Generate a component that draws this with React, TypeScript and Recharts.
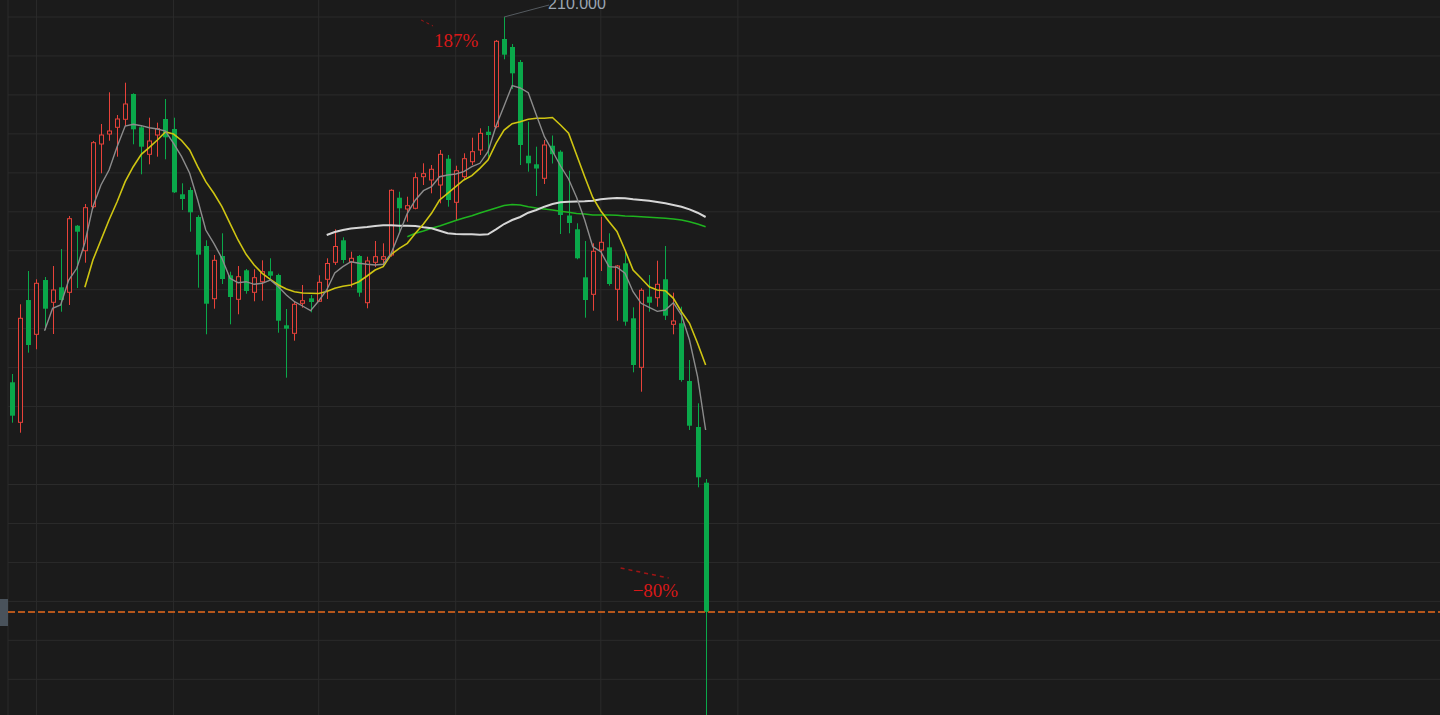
import React from "react";
import {
  ComposedChart,
  Bar,
  Line,
  XAxis,
  YAxis,
  ReferenceLine,
  ReferenceDot,
} from "recharts";

// daily OHLC, one entry per session
const opens = [
  106.86, 95.56, 130.09, 120.41, 135.74, 129.45, 133.68, 132.27, 151.07, 144.01,
  156.44, 174.14, 176.96, 178.86, 181.12, 188.26, 178.86, 171.23, 176.68, 181.2,
  178.38, 159.94, 161.15, 153.53, 145.34, 130.46, 142.52, 137.07, 130.29, 138.48,
  132.27, 135.26, 138.2, 137.15, 122.95, 120.69, 129.16, 130.57, 129.73, 135.94,
  140.74, 146.95, 140.82, 142.52, 129.33, 140.74, 141.59, 142.8, 158.98, 155.79,
  155.99, 164.91, 163.98, 162.56, 169.99, 157.68, 164.91, 169.14, 172.45, 177.61,
  179.03, 203.79, 201.53, 197.29, 170.84, 168.41, 164.46, 173.66, 171.97, 153.95,
  150.06, 136.5, 131.7, 144.21, 144.97, 133.12, 140.46, 124.93, 111.09, 131.03,
  130.74, 135.94, 123.23, 123.52, 107.22, 94.24, 78.51,
];
const highs = [
  109.2, 128.88, 138.28, 135.94, 136.59, 139.69, 144.49, 153.81, 151.27, 157.2,
  174.99, 179.79, 188.74, 182.33, 191.45, 188.46, 179.22, 181.57, 180.16, 186.85,
  181.57, 163.05, 161.92, 154.01, 146.95, 142.8, 148.93, 138.09, 139.69, 138.85,
  138.76, 141.3, 141.87, 137.52, 127.55, 129.81, 134.33, 131.51, 137.07, 141.87,
  150.06, 147.8, 143.73, 142.8, 142.32, 146.75, 146.1, 161.35, 160.67, 159.26,
  166.04, 168.69, 168.21, 172.45, 171.04, 168.01, 171.52, 175.92, 178.57, 179.22,
  203.51, 210.0, 202.38, 197.86, 180.44, 173.38, 175.27, 176.54, 172.36, 166.6,
  151.75, 146.75, 146.1, 153.61, 148.93, 139.98, 144.21, 128.03, 133.4, 137.15,
  141.19, 145.34, 132.16, 128.2, 113.15, 100.93, 79.55,
];
const lows = [
  95.45, 92.63, 115.22, 116.18, 121.62, 120.49, 126.79, 128.68, 133.48, 140.63,
  155.99, 165.87, 175.07, 170.56, 179.22, 174.06, 165.59, 168.41, 170.56, 169.82,
  160.31, 155.51, 149.38, 133.57, 120.41, 127.64, 134.61, 123.23, 126.06, 131.87,
  129.73, 129.9, 135.74, 120.86, 108.16, 118.6, 127.92, 126.62, 129.53, 130.38,
  139.98, 140.46, 133.68, 131.03, 127.75, 139.41, 139.98, 142.32, 149.38, 152.2,
  155.7, 162.56, 160.22, 157.4, 156.44, 152.68, 163.98, 168.21, 171.04, 170.56,
  178.57, 198.06, 189.67, 168.21, 166.32, 159.46, 162.85, 168.64, 148.73, 148.93,
  141.59, 125.1, 127.07, 138.28, 134.13, 124.25, 122.84, 109.68, 104.2, 126.79,
  128.2, 124.45, 120.41, 107.03, 93.39, 77.21, 8.0,
];
const closes = [
  97.43, 124.93, 117.39, 134.81, 127.64, 132.92, 130.09, 153.05, 149.38, 156.16,
  174.51, 176.68, 177.81, 181.2, 185.44, 178.29, 173.38, 174.99, 178.46, 176.03,
  160.5, 158.61, 154.86, 142.89, 129.05, 141.3, 136.02, 130.94, 136.67, 132.64,
  136.39, 138.09, 136.96, 124.25, 121.99, 128.88, 129.9, 129.53, 135.09, 140.4,
  145.2, 141.39, 141.87, 132.16, 141.11, 142.32, 142.32, 161.07, 155.99, 156.72,
  164.63, 165.76, 167.0, 171.23, 158.33, 166.6, 169.99, 171.97, 177.16, 176.68,
  203.14, 199.36, 194.1, 173.86, 168.69, 167.22, 173.86, 171.26, 154.09, 151.84,
  141.87, 130.09, 143.85, 146.39, 134.61, 139.69, 123.97, 111.74, 132.83, 129.33,
  134.53, 125.66, 124.17, 107.51, 94.6, 80.03, 42.0,
];

// moving averages, each list begins at its own first session
const MA5_START = 4;
const ma5 = [
  121.43, 127.75, 128.68, 135.74, 139.05, 146.27, 156.44, 162.56, 166.8, 173.38,
  179.22, 179.7, 179.31, 178.74, 178.38, 177.81, 174.34, 170.56, 165.87, 158.33,
  149.86, 146.1, 141.87, 136.22, 134.98, 135.26, 134.53, 134.81, 135.74, 133.85,
  131.51, 129.61, 128.4, 127.07, 129.81, 132.92, 137.72, 139.5, 140.91, 140.46,
  140.17, 139.98, 140.17, 143.28, 148.93, 154.57, 158.33, 160.96, 162.08, 164.91,
  165.39, 165.67, 166.32, 167.73, 168.69, 171.97, 179.22, 184.87, 190.66, 189.95,
  188.63, 182.33, 176.2, 172.16, 167.93, 164.26, 159.04, 152.68, 145.14, 143.73,
  139.5, 139.33, 137.63, 132.44, 129.16, 128.03, 126.9, 127.27, 129.33, 125.86,
  118.8, 108.44, 93.39,
];
const MA10_START = 9;
const ma10 = [
  133.68, 141.39, 147.04, 152.68, 157.85, 163.5, 167.73, 171.23, 173.21, 175.27,
  177.53, 176.96, 175.13, 172.45, 167.73, 163.5, 160.22, 156.44, 151.75, 147.04,
  143.0, 139.98, 137.63, 135.94, 134.33, 133.2, 132.44, 132.07, 131.99, 131.93,
  132.49, 133.4, 133.96, 134.33, 135.26, 136.87, 138.56, 139.5, 143.0, 144.69,
  146.1, 148.93, 151.55, 154.57, 158.33, 160.22, 162.08, 163.98, 165.19, 167.28,
  169.62, 174.34, 178.09, 179.87, 180.44, 181.12, 181.4, 181.4, 181.62, 179.51,
  177.16, 171.04, 164.91, 159.04, 155.22, 152.26, 149.44, 144.21, 138.56, 136.22,
  133.85, 132.92, 132.72, 130.57, 126.79, 123.52, 117.87, 111.74,
];
const MA40_START = 39;
const ma40 = [
  148.45, 149.29, 149.86, 150.28, 150.51, 150.71, 150.99, 151.19, 151.19, 151.07,
  151.07, 150.99, 150.62, 150.34, 149.66, 148.93, 148.73, 148.65, 148.65, 148.53,
  148.65, 150.06, 151.55, 152.68, 153.53, 154.74, 155.51, 156.44, 157.2, 157.68,
  157.85, 157.91, 157.96, 158.13, 158.53, 158.75, 158.89, 158.81, 158.53, 158.33,
  158.13, 157.77, 157.4, 156.92, 156.44, 155.7, 154.74, 153.53,
];
const MA50_START = 49;
const ma50 = [
  147.97, 148.93, 149.58, 150.34, 150.99, 151.75, 152.54, 153.25, 153.9, 154.66,
  155.37, 156.07, 156.78, 157.06, 156.92, 156.44, 156.07, 155.79, 155.51, 155.14,
  154.86, 154.52, 154.38, 154.09, 154.09, 154.09, 154.01, 153.81, 153.73, 153.61,
  153.47, 153.33, 153.16, 152.97, 152.68, 152.2, 151.55, 150.79,
];

// grid levels and month boundaries (session index)
const priceTicks = [23, 34, 45, 56, 67, 78, 89, 100, 111, 122, 133, 144, 155, 166, 177, 188, 199, 210];
const monthTicks = [3, 20, 38, 55, 73, 90];

// visible session window and price window
const X_MIN = -0.533;
const X_MAX = 177.09;
const Y_MIN = 12.92;
const Y_MAX = 214.8;

const PEAK_INDEX = 61;
const LAST_INDEX = closes.length - 1;
const rallyLabel = "187%";

const W = 1440;
const H = 715;
const MARGIN = { top: 0, right: 0, bottom: 0, left: 8 };
const BG = "#1b1b1b";
const GRID = "#2b2b2b";
const UP = "#e8423a";
const DOWN = "#0aa84a";

const pick = (arr: number[], start: number, i: number) => (i >= start ? arr[i - start] : null);

const data = opens.map((open, i) => ({
  i,
  open,
  high: highs[i],
  low: lows[i],
  close: closes[i],
  ma5: pick(ma5, MA5_START, i),
  ma10: pick(ma10, MA10_START, i),
  ma40: pick(ma40, MA40_START, i),
  ma50: pick(ma50, MA50_START, i),
}));

const Candle = (props: any) => {
  const { x, y, width, height, payload } = props;
  const { open, close, high, low } = payload;
  const unit = height / (high - low);
  const yOf = (v: number) => y + (high - v) * unit;
  const cx = Math.floor(x + width / 2) + 0.5;
  const top = yOf(Math.max(open, close));
  const bottom = yOf(Math.min(open, close));
  const body = Math.max(bottom - top, 1);

  if (close >= open) {
    return (
      <g>
        <line x1={cx} x2={cx} y1={y} y2={top} stroke={UP} />
        <line x1={cx} x2={cx} y1={top + body} y2={y + height} stroke={UP} />
        <rect x={cx - 2} y={top} width={4} height={body} fill={BG} stroke={UP} />
      </g>
    );
  }
  return (
    <g>
      <line x1={cx} x2={cx} y1={y} y2={y + height} stroke={DOWN} />
      <rect x={cx - 2.5} y={top} width={5} height={body} fill={DOWN} />
    </g>
  );
};

const PeakMarker = (props: any) => {
  const { cx, cy } = props;
  return (
    <g>
      <line x1={cx} y1={cy} x2={cx + 45} y2={cy - 12} stroke="#555b60" />
      <text x={cx + 44} y={cy - 8} fill="#9aa5b2" fontSize={16} fontFamily="'Liberation Sans', Arial, sans-serif">
        {highs[PEAK_INDEX].toFixed(3)}
      </text>
      <line x1={cx - 83} y1={cy + 3} x2={cx - 71} y2={cy + 9} stroke="#a01515" strokeDasharray="3 3" />
      <text x={cx - 70} y={cy + 30} fill="#d81818" fontSize={19} fontFamily="'Liberation Serif', 'Times New Roman', serif">
        {rallyLabel}
      </text>
    </g>
  );
};

const DropMarker = (props: any) => {
  const { cx, cy } = props;
  const pct = Math.round((closes[LAST_INDEX] / highs[PEAK_INDEX] - 1) * 100);
  return (
    <g>
      <line x1={cx - 85} y1={cy - 44} x2={cx - 37} y2={cy - 34} stroke="#a01515" strokeDasharray="4 4" strokeWidth={1.5} />
      <text x={cx - 73} y={cy - 15} fill="#d81818" fontSize={19} fontFamily="'Liberation Serif', 'Times New Roman', serif">
        {`\u2212${Math.abs(pct)}%`}
      </text>
    </g>
  );
};

// both layers share the same hidden axes so their scales line up
const axes = [
  <XAxis
    key="x"
    dataKey="i"
    type="number"
    domain={[X_MIN, X_MAX]}
    ticks={monthTicks}
    allowDataOverflow
    height={0}
    tick={false}
    tickLine={false}
    axisLine={false}
  />,
  <YAxis
    key="y"
    type="number"
    domain={[Y_MIN, Y_MAX]}
    ticks={priceTicks}
    allowDataOverflow
    width={0}
    tick={false}
    tickLine={false}
    axisLine={false}
  />,
];

const layer: React.CSSProperties = { position: "absolute", left: 0, top: 0 };

export default function App() {
  return (
    <div style={{ position: "relative", width: W, height: H, background: BG, overflow: "hidden" }}>
      <style>{`body { margin: 0; background: ${BG}; }`}</style>

      {/* background grid: price levels, month boundaries and the left edge */}
      <div style={layer}>
        <ComposedChart width={W} height={H} data={data} margin={MARGIN}>
          {axes}
          {priceTicks.map((v) => (
            <ReferenceLine key={`h${v}`} y={v} stroke={GRID} />
          ))}
          {monthTicks.map((v) => (
            <ReferenceLine key={`v${v}`} x={v} stroke={GRID} />
          ))}
          <ReferenceLine x={X_MIN} stroke={GRID} />
        </ComposedChart>
      </div>

      <div style={layer}>
        <ComposedChart width={W} height={H} data={data} margin={MARGIN}>
          {axes}
          <Bar
            dataKey={(d: any) => [d.low, d.high]}
            barSize={5}
            shape={<Candle />}
            isAnimationActive={false}
          />
          <Line dataKey="ma50" stroke="#1fb41f" strokeWidth={1.6} dot={false} activeDot={false} isAnimationActive={false} />
          <Line dataKey="ma40" stroke="#d6d6d6" strokeWidth={2} dot={false} activeDot={false} isAnimationActive={false} />
          <Line dataKey="ma10" stroke="#cfc512" strokeWidth={1.6} dot={false} activeDot={false} isAnimationActive={false} />
          <Line dataKey="ma5" stroke="#8c8c8c" strokeWidth={1.4} dot={false} activeDot={false} isAnimationActive={false} />
          <ReferenceLine y={closes[LAST_INDEX]} stroke="#b5561b" strokeWidth={2} strokeDasharray="7 3" />
          <ReferenceDot x={PEAK_INDEX} y={highs[PEAK_INDEX]} r={0} shape={(p: any) => <PeakMarker {...p} />} />
          <ReferenceDot x={LAST_INDEX} y={closes[LAST_INDEX]} r={0} shape={(p: any) => <DropMarker {...p} />} />
        </ComposedChart>
      </div>

      <div style={{ position: "absolute", left: 0, top: 599, width: 8, height: 27, background: "#49525b" }} />
    </div>
  );
}
